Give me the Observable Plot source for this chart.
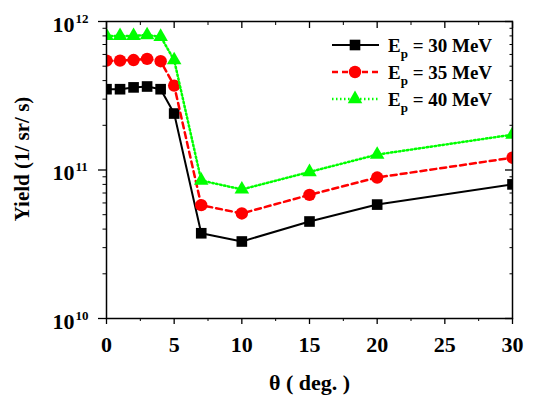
<!DOCTYPE html>
<html><head><meta charset="utf-8">
<script src="https://cdn.jsdelivr.net/npm/d3@7"></script>
<script src="https://cdn.jsdelivr.net/npm/@observablehq/plot@0.6"></script>
<style>body{margin:0;background:#fff}</style>
</head><body><div id="chart"></div>
<script>
const angles = [0, 1, 2, 3, 4, 5, 7, 10, 15, 20, 30];
const yield30 = [3.5e11, 3.5e11, 3.6e11, 3.65e11, 3.5e11, 2.4e11, 3.75e10, 3.3e10, 4.5e10, 5.85e10, 8.0e10];
const yield35 = [5.45e11, 5.45e11, 5.5e11, 5.6e11, 5.4e11, 3.7e11, 5.8e10, 5.1e10, 6.8e10, 8.9e10, 1.21e11];
const yield40 = [8.0e11, 8.0e11, 8.0e11, 8.1e11, 7.9e11, 5.5e11, 8.5e10, 7.4e10, 9.7e10, 1.27e11, 1.73e11];
const seriesNames = ["30", "35", "40"];
const xTicks = [0, 5, 10, 15, 20, 25, 30];
const xMinor = [2.5, 7.5, 12.5, 17.5, 22.5, 27.5];
const yMajor = [1e10, 1e11, 1e12];
const yMinor = [2e10,3e10,4e10,5e10,6e10,7e10,8e10,9e10,2e11,3e11,4e11,5e11,6e11,7e11,8e11,9e11];
const xLabel = "θ ( deg. )";
const yLabel = "Yield (1/ sr/ s)";

const styles = [
  {color: "#000000", dash: null, symbol: "square", r: 6.0, width: 2},
  {color: "#ff0000", dash: "6,4", symbol: "circle", r: 6.2, width: 2.5},
  {color: "#00ff00", dash: "1.5,2.5", symbol: "triangle", r: 5.4, width: 2.5}
];
const allSeries = [yield30, yield35, yield40];
const font = "'Liberation Serif', 'Times New Roman', serif";

const seriesMarks = allSeries.flatMap((vals, k) => {
  const rows = angles.map((a, i) => ({angle: a, value: vals[i]}));
  const s = styles[k];
  return [
    Plot.line(rows, {x: "angle", y: "value", stroke: s.color, strokeWidth: s.width, strokeDasharray: s.dash, clip: "frame"}),
    Plot.dot(rows, {x: "angle", y: "value", fill: s.color, stroke: "none", symbol: s.symbol, r: s.r, clip: "frame"})
  ];
});

const chart = Plot.plot({
  width: 538, height: 400,
  marginLeft: 106, marginRight: 26, marginTop: 21, marginBottom: 82,
  style: {fontFamily: font, background: "#fff", color: "#000"},
  x: {domain: [0, 30]},
  y: {type: "log", domain: [1e10, 1e12]},
  marks: [
    ...seriesMarks,
    Plot.frame({stroke: "#000", strokeWidth: 1.5}),
    Plot.axisX({ticks: xTicks, tickSize: 6, tickPadding: 12, fontSize: 22, fontWeight: "bold", label: null, strokeWidth: 1.3}),
    Plot.axisX({ticks: xMinor, tickSize: 3, tickFormat: () => "", label: null}),
    Plot.axisX({anchor: "top", ticks: xTicks, tickSize: -6, tickFormat: () => "", label: null, strokeWidth: 1.3}),
    Plot.axisX({anchor: "top", ticks: xMinor, tickSize: -3, tickFormat: () => "", label: null}),
    Plot.axisY({ticks: yMajor, tickSize: 8, tickFormat: () => "", label: null, strokeWidth: 1.3}),
    Plot.axisY({ticks: yMinor, tickSize: 3.5, tickFormat: () => "", label: null}),
    Plot.axisY({anchor: "right", ticks: yMajor, tickSize: -8, tickFormat: () => "", label: null, strokeWidth: 1.3}),
    Plot.axisY({anchor: "right", ticks: yMinor, tickSize: -3.5, tickFormat: () => "", label: null}),
    Plot.text(yMajor, {y: d => d, frameAnchor: "left", text: () => "10", textAnchor: "end", dx: -32, dy: 3, fontSize: 22, fontWeight: "bold", lineAnchor: "middle"}),
    Plot.text(yMajor, {y: d => d, frameAnchor: "left", text: d => String(Math.round(Math.log10(d))), textAnchor: "start", dx: -31, dy: -3, fontSize: 13, fontWeight: "bold", lineAnchor: "middle"}),
    Plot.text([xLabel], {text: d => d, frameAnchor: "bottom", dy: 64, fontSize: 22, fontWeight: "bold", lineAnchor: "middle"}),
    Plot.text([yLabel], {text: d => d, frameAnchor: "left", textAnchor: "middle", dx: -84, dy: -11, rotate: -90, fontSize: 21, fontWeight: "bold", lineAnchor: "middle"})
  ]
});

// legend overlay
const svg = d3.select(chart);
const leg = svg.append("g").attr("font-family", font).attr("text-anchor", "start");
const legY = [45, 72, 99];
seriesNames.forEach((name, k) => {
  const s = styles[k];
  const y = legY[k];
  leg.append("line").attr("x1", 332).attr("x2", 379).attr("y1", y).attr("y2", y)
    .attr("stroke", s.color).attr("stroke-width", s.width).attr("stroke-dasharray", s.dash);
  const sym = {square: d3.symbolSquare, circle: d3.symbolCircle, triangle: d3.symbolTriangle}[s.symbol];
  leg.append("path").attr("transform", `translate(355,${y})`)
    .attr("d", d3.symbol(sym, Math.PI * s.r * s.r)()).attr("fill", s.color);
  const t = leg.append("text").attr("x", 388).attr("y", y + 6.5).attr("font-size", 19).attr("font-weight", "bold").attr("text-anchor", "start");
  t.append("tspan").text("E");
  t.append("tspan").attr("dy", 6).attr("font-size", 13).text("p");
  t.append("tspan").attr("dy", -6).text(` = ${name} MeV`);
});

document.getElementById("chart").append(chart);
</script>
</body></html>
